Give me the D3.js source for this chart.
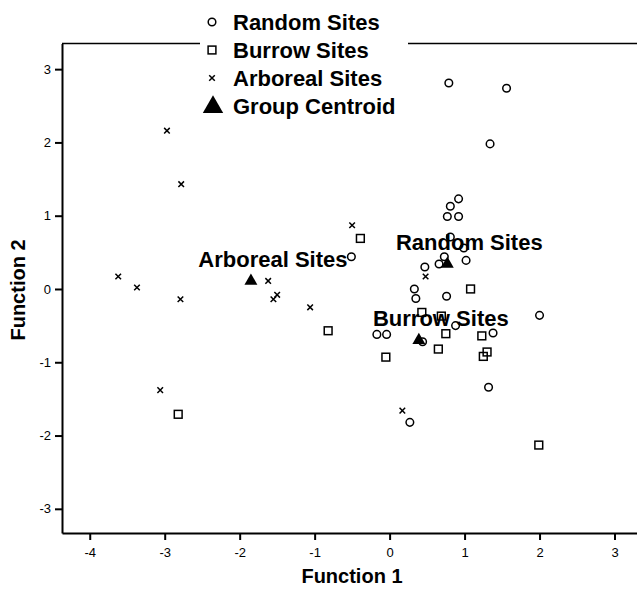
<!DOCTYPE html>
<html>
<head>
<meta charset="utf-8">
<script src="https://cdnjs.cloudflare.com/ajax/libs/d3/7.8.5/d3.min.js"></script>
<style>
  body { margin: 0; background: #fff; }
  svg { display: block; font-family: "Liberation Sans", Arial, sans-serif; }
  .tick text { font-size: 13px; fill: #000; }
  .tick line, .domain { stroke: #000; stroke-width: 2; }
</style>
</head>
<body>
<div class="chart"></div>
<script>
var svgWidth = 637;
var svgHeight = 594;

// discriminant scores: [Function 1, Function 2]
var randomSites = [
  [0.79, 2.81], [1.56, 2.74], [1.34, 1.98], [0.92, 1.23], [0.81, 1.13],
  [0.77, 0.99], [0.92, 0.99], [0.81, 0.71], [0.99, 0.56], [1.02, 0.39],
  [0.73, 0.44], [0.66, 0.34], [0.47, 0.30], [-0.51, 0.44], [0.33, 0.00],
  [0.35, -0.13], [0.76, -0.10], [2.00, -0.36], [0.88, -0.50], [-0.17, -0.62],
  [-0.04, -0.62], [0.44, -0.72], [1.38, -0.60], [1.32, -1.34], [0.27, -1.82]
];
var burrowSites = [
  [-0.39, 0.69], [-0.82, -0.57], [-2.82, -1.71], [1.08, 0.00], [0.43, -0.32],
  [0.69, -0.37], [0.75, -0.61], [1.23, -0.64], [0.65, -0.82], [-0.05, -0.93],
  [1.30, -0.86], [1.25, -0.92], [1.99, -2.13]
];
var arborealSites = [
  [-2.97, 2.16], [-2.78, 1.43], [-0.50, 0.87], [-3.62, 0.17], [-3.37, 0.02],
  [-2.79, -0.14], [-1.62, 0.11], [-1.50, -0.08], [-1.55, -0.14], [-1.06, -0.25],
  [-3.06, -1.38], [0.48, 0.17], [0.17, -1.66]
];
var centroids = [
  { name: "Arboreal Sites", x: -1.85, y: 0.11 },
  { name: "Random Sites", x: 0.77, y: 0.34 },
  { name: "Burrow Sites", x: 0.39, y: -0.70 }
];
var legendLabels = ["Random Sites", "Burrow Sites", "Arboreal Sites", "Group Centroid"];
var xTicks = [-4, -3, -2, -1, 0, 1, 2, 3];
var yTicks = [-3, -2, -1, 0, 1, 2, 3];

var plot = { left: 62, right: 637, top: 43.5, bottom: 533 };

var svg = d3.select(".chart")
  .append("svg")
  .attr("width", svgWidth)
  .attr("height", svgHeight);

var xScale = d3.scaleLinear().domain([-4.37, 3.30]).range([plot.left, plot.right]);
var yScale = d3.scaleLinear().domain([-3.33, 3.35]).range([plot.bottom, plot.top]);

// plain hyphen minus, as in the original
var fmt = d => String(d);

// axes
svg.append("g")
  .attr("transform", `translate(${plot.left}, 0)`)
  .call(d3.axisLeft(yScale).tickValues(yTicks).tickFormat(fmt).tickSize(7).tickSizeOuter(0).tickPadding(4));

svg.append("g")
  .attr("transform", `translate(0, ${plot.bottom})`)
  .call(d3.axisBottom(xScale).tickValues(xTicks).tickFormat(fmt).tickSize(7).tickSizeOuter(0).tickPadding(8));

// top frame line, broken by the legend
svg.append("line")
  .attr("x1", plot.left).attr("x2", 200)
  .attr("y1", plot.top).attr("y2", plot.top)
  .attr("stroke", "#000").attr("stroke-width", 1.5);
svg.append("line")
  .attr("x1", 408).attr("x2", plot.right)
  .attr("y1", plot.top).attr("y2", plot.top)
  .attr("stroke", "#000").attr("stroke-width", 1.5);

// axis titles
svg.append("text")
  .attr("x", 352).attr("y", 583)
  .attr("text-anchor", "middle")
  .attr("font-size", "20px").attr("font-weight", "bold")
  .text("Function 1");

svg.append("text")
  .attr("transform", "translate(25, 290) rotate(-90)")
  .attr("text-anchor", "middle")
  .attr("font-size", "20px").attr("font-weight", "bold")
  .text("Function 2");

// marker drawers
function drawCircle(g, cx, cy) {
  g.append("circle").attr("cx", cx).attr("cy", cy).attr("r", 3.8)
    .attr("fill", "none").attr("stroke", "#000").attr("stroke-width", 1.5);
}
function drawSquare(g, cx, cy) {
  g.append("rect").attr("x", cx - 3.9).attr("y", cy - 3.9).attr("width", 7.8).attr("height", 7.8)
    .attr("fill", "none").attr("stroke", "#000").attr("stroke-width", 1.5);
}
function drawCross(g, cx, cy) {
  g.append("path")
    .attr("d", `M${cx - 2.8},${cy - 2.8}L${cx + 2.8},${cy + 2.8}M${cx - 2.8},${cy + 2.8}L${cx + 2.8},${cy - 2.8}`)
    .attr("stroke", "#000").attr("stroke-width", 1.5);
}
function drawTriangle(g, cx, cy, size) {
  g.append("path")
    .attr("transform", `translate(${cx}, ${cy})`)
    .attr("d", d3.symbol().type(d3.symbolTriangle).size(size)())
    .attr("fill", "#000");
}

var points = svg.append("g");
randomSites.forEach(d => drawCircle(points, xScale(d[0]), yScale(d[1])));
burrowSites.forEach(d => drawSquare(points, xScale(d[0]), yScale(d[1])));
arborealSites.forEach(d => drawCross(points, xScale(d[0]), yScale(d[1])));

// group centroids and their labels
var cents = svg.append("g");
centroids.forEach(function(c) {
  drawTriangle(cents, xScale(c.x), yScale(c.y), 72);
});
centroids.forEach(function(c) {
  cents.append("text")
    .attr("x", xScale(c.x) + 22)
    .attr("y", yScale(c.y) - 14)
    .attr("text-anchor", "middle")
    .attr("font-size", "22px").attr("font-weight", "bold")
    .text(c.name);
});

// legend
var legend = svg.append("g");
legendLabels.forEach(function(label, i) {
  var cy = 22 + i * 28;
  if (i === 0) drawCircle(legend, 212, cy);
  if (i === 1) drawSquare(legend, 212, cy);
  if (i === 2) drawCross(legend, 212, cy);
  if (i === 3) drawTriangle(legend, 213, cy + 1, 180);
  legend.append("text")
    .attr("x", 233).attr("y", cy + 8)
    .attr("font-size", "22px").attr("font-weight", "bold")
    .text(label);
});
</script>
</body>
</html>
